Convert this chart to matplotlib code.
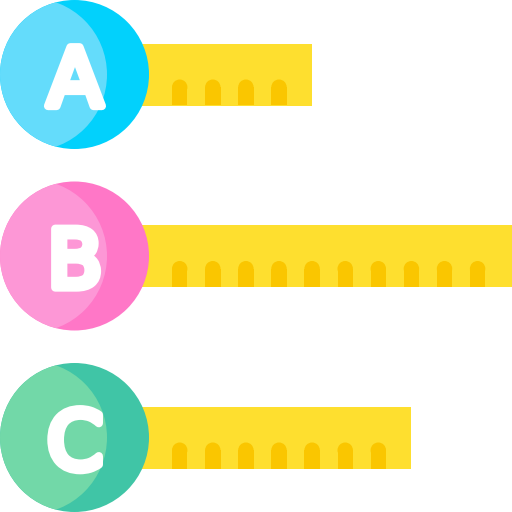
import matplotlib.pyplot as plt
from matplotlib.patches import Circle, Rectangle
import matplotlib.patheffects as pe

# row data
labels = ["A", "B", "C"]
bar_ends = [312, 512, 411]
tick_counts = [4, 10, 7]
dark_colors = ["#02D1FC", "#FF77C7", "#40C5A6"]
light_colors = ["#64DCFB", "#FD97D6", "#72D8A8"]

BAR_COLOR = "#FEDF2F"
TICK_COLOR = "#FAC600"

row_y = [74.5, 256.0, 437.5]
cx, r = 74.5, 74.5
bar_left, bar_h = 140, 62
tick_x0, tick_step, tick_w, tick_h = 172, 33.1, 15.4, 26

fig = plt.figure(figsize=(5.12, 5.12), dpi=100)
ax = fig.add_axes([0, 0, 1, 1])
ax.set_xlim(0, 512)
ax.set_ylim(512, 0)
ax.set_aspect("equal")
ax.axis("off")

for lab, end, n, dark, light, cy in zip(labels, bar_ends, tick_counts,
                                        dark_colors, light_colors, row_y):
    # yellow ruler bar
    ax.barh(cy, end - bar_left, left=bar_left, height=bar_h,
            color=BAR_COLOR, zorder=1)
    bottom = cy + bar_h / 2
    rr = tick_w / 2
    for i in range(n):
        x = tick_x0 + i * tick_step
        ax.add_patch(Rectangle((x, bottom - tick_h + rr), tick_w, tick_h - rr,
                               color=TICK_COLOR, lw=0, zorder=2))
        ax.add_patch(Circle((x + rr, bottom - tick_h + rr), rr,
                            color=TICK_COLOR, lw=0, zorder=2))

    # badge circle with lighter crescent
    main = Circle((cx, cy), r, color=dark, lw=0, zorder=3)
    ax.add_patch(main)
    shade = Circle((cx - 44, cy), 76.5, color=light, lw=0, zorder=4)
    ax.add_patch(shade)
    shade.set_clip_path(main)

    ax.text(cx + 0.5, cy + 31.5, lab, color="white", fontsize=58,
            family="DejaVu Sans", fontweight="normal", ha="center",
            va="baseline", zorder=5,
            path_effects=[pe.withStroke(linewidth=6, foreground="white",
                                        capstyle="round", joinstyle="round")])

fig.savefig("out.png", dpi=100)
